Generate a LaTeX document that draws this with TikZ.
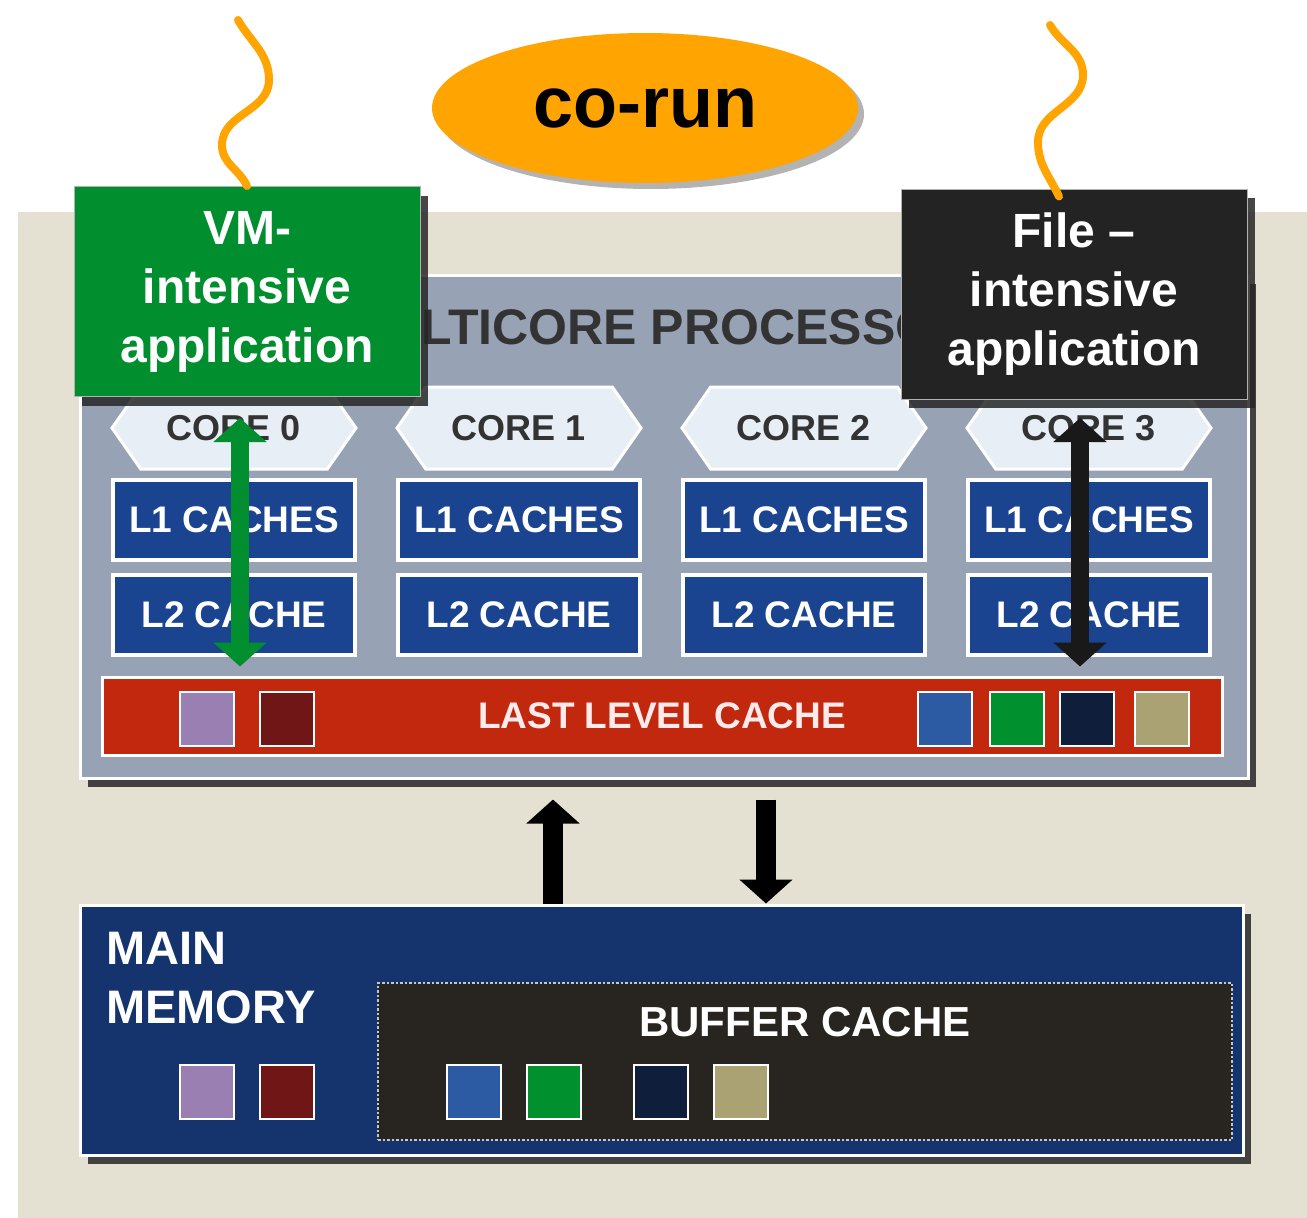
\documentclass[tikz,border=0pt]{standalone}
\usepackage{fontspec}
\setmainfont{Liberation Sans}
\usepackage{tikz}
\usetikzlibrary{arrows.meta,positioning,shapes,shadows,calc}

\definecolor{beige}{HTML}{E4E0D2}
\definecolor{procgray}{HTML}{97A3B4}
\definecolor{coregray}{HTML}{E8EEF6}
\definecolor{cacheblue}{HTML}{1A4390}
\definecolor{llcred}{HTML}{C2280D}
\definecolor{memblue}{HTML}{15346D}
\definecolor{bufdark}{HTML}{28241F}
\definecolor{vmgreen}{HTML}{008E2F}
\definecolor{filedark}{HTML}{232323}
\definecolor{runorange}{HTML}{FFA400}
\definecolor{sqpurple}{HTML}{9A80B2}
\definecolor{sqred}{HTML}{711616}
\definecolor{sqblue}{HTML}{2C5BA4}
\definecolor{sqgreen}{HTML}{00912E}
\definecolor{sqnavy}{HTML}{0F1E3B}
\definecolor{sqkhaki}{HTML}{ABA273}

\begin{document}
\begin{tikzpicture}[x=1pt,y=-1pt,node distance=95pt,on grid,font=\bfseries,
  dark shadow/.style={drop shadow={shadow xshift=8pt,shadow yshift=-9pt,fill=black!85,opacity=.85}},
  core/.style={signal,signal to=east and west,signal pointer angle=110,draw=white,line width=3pt,
    fill=coregray,minimum width=244pt,minimum height=82pt,inner sep=0pt,text=black!80,
    font=\bfseries\fontsize{36}{40}\selectfont},
  cache/.style={rectangle,draw=white,line width=3.5pt,fill=cacheblue,minimum width=242pt,
    minimum height=80pt,inner sep=0pt,text=white,font=\bfseries\fontsize{37}{40}\selectfont},
  app/.style={rectangle,draw=gray!60,line width=1pt,minimum width=346pt,minimum height=210pt,
    text=white,align=center,font=\bfseries\fontsize{48}{59}\selectfont,dark shadow},
  blk/.style={rectangle,draw=white,line width=1.5pt,minimum width=54pt,minimum height=54pt,inner sep=0pt},
  wave/.style={runorange,line width=8pt,line cap=round},
  tw/.style={line width=18pt,{Triangle[width=52pt,length=24pt]}-{Triangle[width=52pt,length=24pt]}},
  ow/.style={line width=20pt,-{Triangle[width=52pt,length=24pt]}}]

\useasboundingbox (0,0) rectangle (1307,1218);
\fill[beige] (18,212) rectangle (1307,1218);

% co-run bubble
\node[ellipse,fill=runorange,minimum width=426pt,minimum height=150pt,
  drop shadow={shadow xshift=6pt,shadow yshift=-6pt,opacity=.6},
  font=\bfseries\fontsize{72}{80}\selectfont] (corun) at (645,108) {co-run};

% processor
\node[rectangle,draw=white,line width=3pt,fill=procgray,minimum width=1168pt,minimum height=503pt,
  dark shadow] (proc) at (664,526.5) {};
\node[text=black!80,font=\bfseries\fontsize{50}{54}\selectfont] (title) at (657,327) {MULTICORE PROCESSOR};

\node[core] (core0) at (234,428) {CORE 0};
\node[core] (core1) [right=285pt of core0] {CORE 1};
\node[core] (core2) [right=285pt of core1] {CORE 2};
\node[core] (core3) [right=285pt of core2] {CORE 3};

\node[cache] (l1a) [below=92pt of core0] {L1 CACHES};
\node[cache] (l1b) [below=92pt of core1] {L1 CACHES};
\node[cache] (l1c) [below=92pt of core2] {L1 CACHES};
\node[cache] (l1d) [below=92pt of core3] {L1 CACHES};
\node[cache] (l2a) [below=of l1a] {L2 CACHE};
\node[cache] (l2b) [below=of l1b] {L2 CACHE};
\node[cache] (l2c) [below=of l1c] {L2 CACHE};
\node[cache] (l2d) [below=of l1d] {L2 CACHE};

\node[rectangle,draw=white,line width=3pt,fill=llcred,minimum width=1120pt,minimum height=78pt,
  text=white!92!red,font=\bfseries\fontsize{37}{40}\selectfont] (llc) at (662,716) {LAST LEVEL CACHE};
\node[blk,fill=sqpurple] (lp) at (207,719) {};
\node[blk,fill=sqred]    (lr) at (287,719) {};
\node[blk,fill=sqblue]   (lb) at (945,719) {};
\node[blk,fill=sqgreen]  (lg) at (1017,719) {};
\node[blk,fill=sqnavy]   (ln) at (1087,719) {};
\node[blk,fill=sqkhaki]  (lk) at (1162,719) {};

% main memory
\node[rectangle,draw=white,line width=3pt,fill=memblue,minimum width=1163pt,minimum height=250pt,
  dark shadow] (mem) at (661.5,1030) {};
\node[anchor=north west,align=left,inner sep=0pt,text=white,
  font=\bfseries\fontsize{47}{59}\selectfont] (mtxt) at (106,932) {MAIN\\MEMORY};
\node[rectangle,draw=gray!45,dotted,line width=2.5pt,fill=bufdark,minimum width=854pt,
  minimum height=157pt] (buf) at (805,1061.5) {};
\node[text=white,font=\bfseries\fontsize{42}{46}\selectfont] (btxt) at (805,1022) {BUFFER CACHE};
\node[blk,fill=sqpurple] (mp) at (207,1092) {};
\node[blk,fill=sqred]    (mr) at (287,1092) {};
\node[blk,fill=sqblue]   (mb) at (474,1092) {};
\node[blk,fill=sqgreen]  (mg) at (554,1092) {};
\node[blk,fill=sqnavy]   (mn) at (661,1092) {};
\node[blk,fill=sqkhaki]  (mk) at (741,1092) {};

% the two applications
\node[app,fill=vmgreen]   (vm)   at (247,291.5) {VM-\\intensive\\application};
\node[app,fill=filedark]  (file) at (1074,294)  {File --\\intensive\\application};

\coordinate (t0) at (238,20);
\coordinate (t3) at (1050,25);
\draw[wave] (t0) to[out=-60,in=90] (269,80) to[out=-90,in=90] (222,145) to[out=-90,in=115] (vm.north);
\draw[wave] (t3) to[out=-60,in=90] (1083,75) to[out=-90,in=90] (1038,142) to[out=-90,in=115] ($(file.north)+(-15,8)$);

\draw[tw,vmgreen] ($(core0.center)+(6,-10)$) -- ($(core0 |- llc.north)+(6,-9)$);
\draw[tw,black!90] ($(core3.center)+(-9,-10)$) -- ($(core3 |- llc.north)+(-9,-9)$);

\coordinate (upx) at (553,0);
\coordinate (dnx) at (766,0);
\draw[ow] (mem.north -| upx) -- ($(proc.south -| upx)+(0,20)$);
\draw[ow] ($(proc.south -| dnx)+(0,20)$) -- (mem.north -| dnx);
\end{tikzpicture}
\end{document}
